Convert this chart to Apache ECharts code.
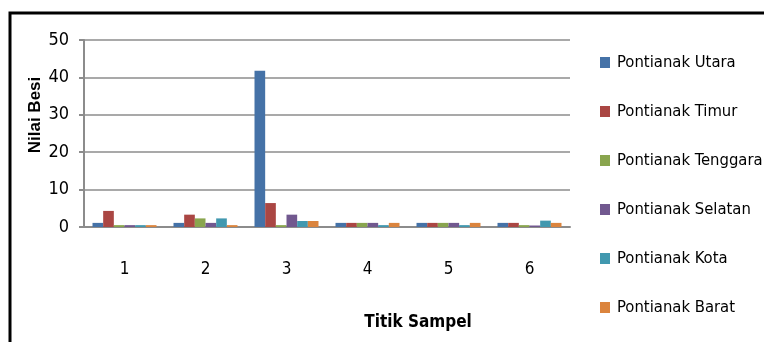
<!DOCTYPE html>
<html>
<head>
<meta charset="utf-8">
<script src="https://cdn.jsdelivr.net/npm/echarts@6/dist/echarts.min.js"></script>
<style>
  html, body { margin: 0; padding: 0; background: #fff; }
  #chart { width: 764px; height: 342px; }
</style>
</head>
<body>
<div id="chart"></div>
<script>
const categories = ['1', '2', '3', '4', '5', '6']
const seriesNames = ['Pontianak Utara', 'Pontianak Timur', 'Pontianak Tenggara', 'Pontianak Selatan', 'Pontianak Kota', 'Pontianak Barat']
const utara = [1.1, 1.1, 41.8, 1.1, 1.1, 1.1]
const timur = [4.3, 3.3, 6.4, 1.1, 1.1, 1.1]
const tenggara = [0.5, 2.3, 0.5, 1.1, 1.1, 0.5]
const selatan = [0.5, 1.1, 3.3, 1.1, 1.1, 0.4]
const kota = [0.5, 2.3, 1.6, 0.5, 0.5, 1.7]
const barat = [0.5, 0.5, 1.6, 1.1, 1.1, 1.1]
const yTicks = [0, 10, 20, 30, 40, 50]
const colors = ['#4572A7', '#AA4643', '#89A54E', '#71588F', '#4198AF', '#DB843D']

const values = [utara, timur, tenggara, selatan, kota, barat]
const font = "'DejaVu Sans Condensed', 'Liberation Sans Narrow', sans-serif"

const chart = echarts.init(document.getElementById('chart'))
chart.setOption({
  animation: false,
  backgroundColor: '#fff',
  grid: { left: 84, right: 194, top: 40, bottom: 115 },
  legend: {
    orient: 'vertical',
    left: 595,
    top: 49,
    itemWidth: 10,
    itemHeight: 11,
    itemGap: 32,
    icon: 'rect',
    textStyle: { fontFamily: font, fontSize: 16.5, color: '#000', padding: [0, 0, 0, 2] },
    data: seriesNames
  },
  xAxis: {
    type: 'category',
    data: categories,
    axisLine: { lineStyle: { color: '#8c8c8c', width: 2 } },
    axisTick: { show: false },
    axisLabel: { color: '#000', fontFamily: font, fontSize: 17, margin: 34 }
  },
  yAxis: {
    type: 'value',
    min: 0,
    max: 50,
    interval: 10,
    axisLine: { show: true, lineStyle: { color: '#8c8c8c', width: 2 } },
    axisTick: { show: true, length: 5, lineStyle: { color: '#8c8c8c', width: 2 } },
    axisLabel: {
      color: '#000', fontFamily: font, fontSize: 18, margin: 15,
      formatter: v => yTicks.includes(v) ? String(v) : ''
    },
    splitLine: { lineStyle: { color: '#8c8c8c', width: 1.5 } }
  },
  graphic: [
    {
      type: 'rect',
      shape: { x: 10, y: 13, width: 800, height: 400 },
      style: { fill: 'none', stroke: '#000', lineWidth: 3 },
      silent: true
    },
    {
      type: 'text',
      x: 35, y: 115,
      rotation: Math.PI / 2,
      style: {
        text: 'Nilai Besi', fontFamily: "'Liberation Sans', sans-serif", fontWeight: 'bold',
        fontSize: 17, fill: '#000', align: 'center', verticalAlign: 'middle'
      }
    },
    {
      type: 'text',
      x: 418, y: 323,
      style: {
        text: 'Titik Sampel', fontFamily: font, fontWeight: 'bold',
        fontSize: 17, fill: '#000', align: 'center', verticalAlign: 'middle'
      }
    }
  ],
  series: seriesNames.map((name, i) => ({
    name,
    type: 'bar',
    data: values[i],
    barGap: '0%',
    barCategoryGap: '21%',
    itemStyle: { color: colors[i] }
  }))
})
</script>
</body>
</html>
